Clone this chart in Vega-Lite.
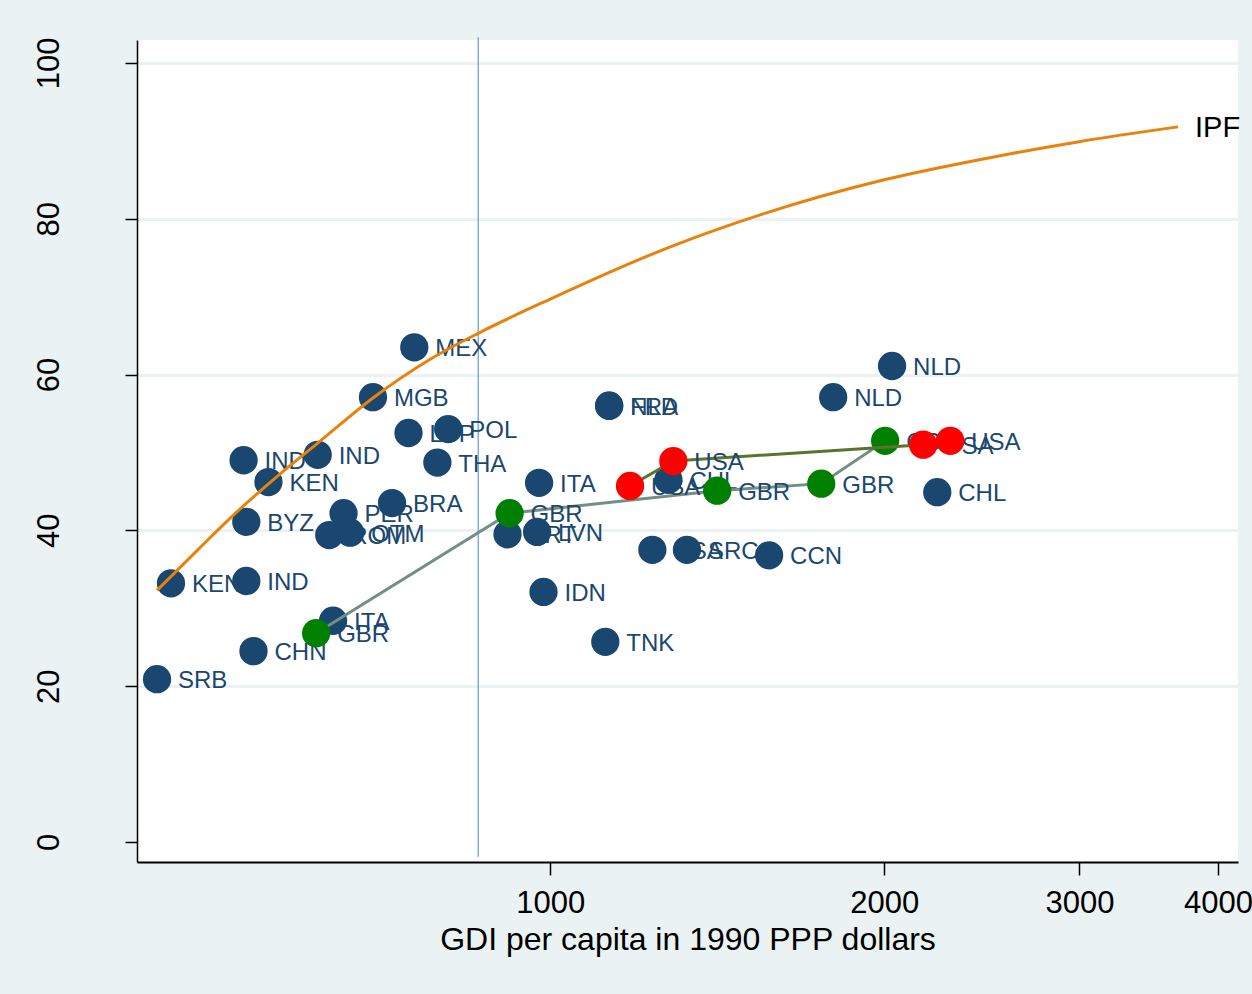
{
  "$schema": "https://vega.github.io/schema/vega-lite/v6.json",
  "width": 1101,
  "height": 822,
  "autosize": {"type": "none"},
  "padding": {"left": 137, "top": 40, "right": 14, "bottom": 132},
  "background": "#EAF2F3",
  "config": {"view": {"fill": "white", "stroke": null}, "font": "Liberation Sans"},
  "datasets": {
    "blue": [
      {"x": 442, "y": 20.9, "label": "SRB"},
      {"x": 455, "y": 33.2, "label": "KEN"},
      {"x": 532, "y": 33.5, "label": "IND"},
      {"x": 540, "y": 24.5, "label": "CHN"},
      {"x": 637, "y": 28.4, "label": "ITA"},
      {"x": 529, "y": 49.0, "label": "IND"},
      {"x": 617, "y": 49.7, "label": "IND"},
      {"x": 557, "y": 46.2, "label": "KEN"},
      {"x": 532, "y": 41.1, "label": "BYZ"},
      {"x": 651, "y": 42.2, "label": "PER"},
      {"x": 632, "y": 39.4, "label": "ROM"},
      {"x": 660, "y": 39.7, "label": "OTM"},
      {"x": 720, "y": 43.5, "label": "BRA"},
      {"x": 692, "y": 57.1, "label": "MGB"},
      {"x": 754, "y": 63.5, "label": "MEX"},
      {"x": 745, "y": 52.5, "label": "LBP"},
      {"x": 809, "y": 53.0, "label": "POL"},
      {"x": 791, "y": 48.7, "label": "THA"},
      {"x": 915, "y": 39.5, "label": "PRT"},
      {"x": 973, "y": 39.8, "label": "LVN"},
      {"x": 977, "y": 46.1, "label": "ITA"},
      {"x": 986, "y": 32.1, "label": "IDN"},
      {"x": 1130, "y": 56.0, "label": "NLD"},
      {"x": 1130, "y": 56.0, "label": "FRA"},
      {"x": 1121, "y": 25.7, "label": "TNK"},
      {"x": 1278, "y": 46.5, "label": "CHL"},
      {"x": 1236, "y": 37.5, "label": "USA"},
      {"x": 1328, "y": 37.5, "label": "SRC"},
      {"x": 1575, "y": 36.8, "label": "CCN"},
      {"x": 1799, "y": 57.1, "label": "NLD"},
      {"x": 2033, "y": 61.1, "label": "NLD"},
      {"x": 2233, "y": 44.9, "label": "CHL"}
    ],
    "gbr": [
      {"x": 615, "y": 26.8, "label": "GBR"},
      {"x": 919, "y": 42.2, "label": "GBR"},
      {"x": 1414, "y": 45.1, "label": "GBR"},
      {"x": 1755, "y": 46.0, "label": "GBR"},
      {"x": 2004, "y": 51.5, "label": "GBR"}
    ],
    "usa": [
      {"x": 1180, "y": 45.7, "label": "USA"},
      {"x": 1291, "y": 48.9, "label": "USA"},
      {"x": 2169, "y": 51.0, "label": "USA"},
      {"x": 2294, "y": 51.5, "label": "USA"}
    ],
    "ipf": [
      {"x": 442, "y": 32.3},
      {"x": 481, "y": 37.5},
      {"x": 522, "y": 42.4},
      {"x": 568, "y": 47.0},
      {"x": 617, "y": 51.2},
      {"x": 692, "y": 57.0},
      {"x": 780, "y": 62.0},
      {"x": 861, "y": 65.3},
      {"x": 1000, "y": 69.7},
      {"x": 1283, "y": 76.4},
      {"x": 1546, "y": 80.5},
      {"x": 2000, "y": 85.0},
      {"x": 2545, "y": 88.1},
      {"x": 2998, "y": 89.9},
      {"x": 3681, "y": 91.8}
    ],
    "ipflabel": [{"x": 3681, "y": 91.8, "label": "IPF"}],
    "vline": [{"x": 861, "ytop": 103.3, "ybottom": -1.9}]
  },
  "encoding": {
    "x": {
      "field": "x", "type": "quantitative",
      "scale": {"type": "log", "domain": [424, 4169], "nice": false, "zero": false},
      "axis": {
        "values": [1000, 2000, 3000, 4000], "format": "d", "grid": false,
        "title": "GDI per capita in 1990 PPP dollars",
        "titleFontSize": 32, "titleFontWeight": "normal", "titleColor": "black",
        "titleY": 87, "titleBaseline": "alphabetic",
        "labelFontSize": 31, "labelColor": "black", "labelPadding": 13,
        "labelFlush": false, "labelOverlap": false,
        "tickSize": 13, "tickColor": "black", "tickWidth": 1.5,
        "domainColor": "black", "domainWidth": 2
      }
    },
    "y": {
      "field": "y", "type": "quantitative",
      "scale": {"domain": [-2.57, 102.95], "nice": false, "zero": false},
      "axis": {
        "values": [0, 20, 40, 60, 80, 100], "title": null,
        "grid": true,
        "gridColor": {"condition": {"test": "datum.value === 0", "value": "white"}, "value": "#EAF2F3"},
        "gridWidth": 3,
        "labelAngle": -90, "labelAlign": "center", "labelBaseline": "alphabetic",
        "labelPadding": 67, "labelFontSize": 31, "labelColor": "black",
        "tickSize": 12, "tickColor": "black", "tickWidth": 1.5,
        "domainColor": "black", "domainWidth": 1.5
      }
    }
  },
  "layer": [
    {
      "data": {"name": "vline"},
      "mark": {"type": "rule", "color": "#6FA3D6", "strokeWidth": 1.3, "clip": false},
      "encoding": {"x": {"field": "x", "type": "quantitative"}, "y": {"field": "ytop", "type": "quantitative"}, "y2": {"field": "ybottom"}}
    },
    {
      "data": {"name": "blue"},
      "mark": {"type": "text", "align": "left", "baseline": "middle", "dx": 21, "dy": 2, "fontSize": 24, "color": "#1A476F"},
      "encoding": {"text": {"field": "label"}}
    },
    {
      "data": {"name": "blue"},
      "mark": {"type": "circle", "size": 800, "opacity": 1, "color": "#1A476F"}
    },
    {
      "data": {"name": "gbr"},
      "mark": {"type": "line", "color": "#728F84", "strokeWidth": 3},
      "encoding": {}
    },
    {
      "data": {"name": "gbr"},
      "mark": {"type": "text", "align": "left", "baseline": "middle", "dx": 21, "dy": 2, "fontSize": 24, "color": "#1A476F"},
      "encoding": {"text": {"field": "label"}}
    },
    {
      "data": {"name": "gbr"},
      "mark": {"type": "circle", "size": 800, "opacity": 1, "color": "#008000"}
    },
    {
      "data": {"name": "usa"},
      "mark": {"type": "line", "color": "#5A742E", "strokeWidth": 3},
      "encoding": {}
    },
    {
      "data": {"name": "usa"},
      "mark": {"type": "text", "align": "left", "baseline": "middle", "dx": 21, "dy": 2, "fontSize": 24, "color": "#1A476F"},
      "encoding": {"text": {"field": "label"}}
    },
    {
      "data": {"name": "usa"},
      "mark": {"type": "circle", "size": 800, "opacity": 1, "color": "#FF0000"}
    },
    {
      "data": {"name": "ipf"},
      "mark": {"type": "line", "color": "#E8820C", "strokeWidth": 3, "interpolate": "monotone"},
      "encoding": {}
    },
    {
      "data": {"name": "ipflabel"},
      "mark": {"type": "text", "align": "left", "baseline": "middle", "dx": 17, "dy": 1, "fontSize": 29, "color": "black"},
      "encoding": {"text": {"field": "label"}}
    }
  ]
}
